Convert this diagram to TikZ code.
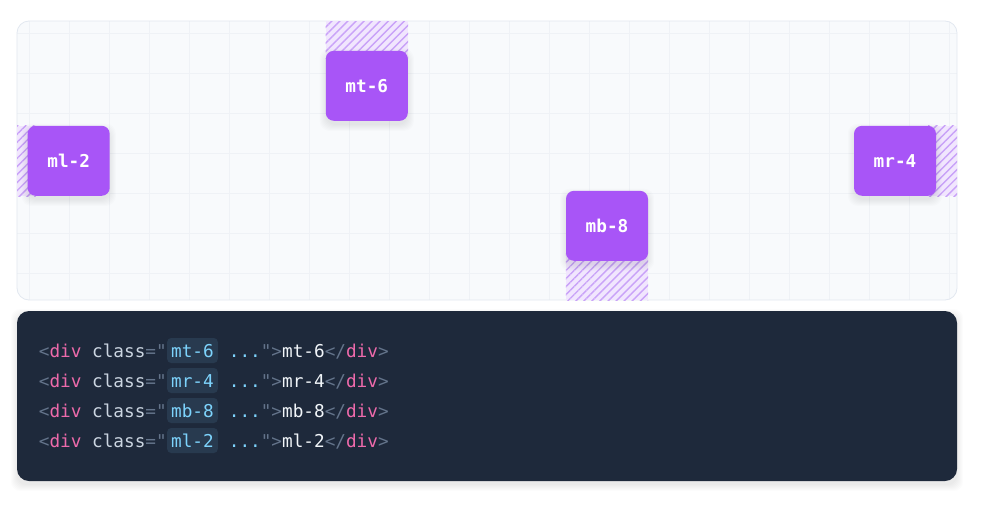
\documentclass[tikz,border=0pt]{standalone}
\usepackage{fontspec}
\setmonofont{DejaVu Sans Mono}
\usepackage{tikz}
\usetikzlibrary{positioning,calc,patterns.meta,backgrounds}

\definecolor{boxpurple}{HTML}{A855F7}
\definecolor{hatchbg}{HTML}{F1E6FE}
\definecolor{hatchline}{HTML}{C9A2F8}
\definecolor{stagebg}{HTML}{F8FAFC}
\definecolor{stageline}{HTML}{E2E8F0}
\definecolor{gridline}{HTML}{EFF2F6}
\definecolor{codebg}{HTML}{1E293B}
\definecolor{clsbg}{HTML}{283A4F}
\definecolor{punct}{HTML}{64748B}
\definecolor{tagpink}{HTML}{EE6AAB}
\definecolor{attrgray}{HTML}{CBD5E1}
\definecolor{clsblue}{HTML}{7DD3FC}
\definecolor{content}{HTML}{F1F5F9}

\newcommand{\cpunct}[1]{\textcolor{punct}{#1}}
\newcommand{\ctag}[1]{\textcolor{tagpink}{#1}}
\newcommand{\cattr}[1]{\textcolor{attrgray}{#1}}
\newcommand{\cval}[1]{\textcolor{clsblue}{#1}}
\newcommand{\ccont}[1]{\textcolor{content}{#1}}

\pgfdeclarelayer{panel}
\pgfdeclarelayer{shade}
\pgfsetlayers{panel,shade,main}

\tikzset{
  marginbox/.style={fill=boxpurple,rounded corners=8pt,minimum width=82pt,
    minimum height=70pt,inner sep=0pt,text=white,
    font=\ttfamily\bfseries\fontsize{17.7}{21}\selectfont},
  hatch/.style={preaction={fill=hatchbg},
    pattern={Lines[angle=45,distance=5.7pt,line width=1.4pt]},pattern color=hatchline},
  codepanel/.style={fill=codebg,rounded corners=12pt,minimum width=940pt,
    minimum height=170pt,inner sep=0pt},
  codetxt/.style={font=\ttfamily\fontsize{17.7}{21}\selectfont,inner sep=0pt,anchor=base west},
  clsbox/.style={codetxt,fill=clsbg,rounded corners=4pt,inner xsep=4pt,inner ysep=4pt,
    text height=15pt,text depth=2pt,text=clsblue},
}

\begin{document}
\begin{tikzpicture}[x=1pt,y=-1pt]
  \useasboundingbox (0,0) rectangle (983,506);
  \coordinate (stnw) at (17,21);
  \coordinate (stse) at (957,300);

  % the four boxes
  \node[marginbox] (mt6) at (366.8,85.8) {mt-6};
  \node[marginbox] (ml2) at (68.7,160.8) {ml-2};
  \node[marginbox] (mr4) at (895,160.8) {mr-4};
  \node[marginbox] (mb8) at (607,225.8) {mb-8};

  % code block
  \node[codepanel] (code) at (487,396) {};
  \foreach \cls [count=\i] in {mt-6,mr-4,mb-8,ml-2} {
    \node[codetxt] (pre\i) at (38.7,327+30*\i) {\cpunct{<}\ctag{div} \cattr{class}\cpunct{="}};
    \node[clsbox] (val\i) at (pre\i.base east) {\cls};
    \node[codetxt] (post\i) at (val\i.base east)
      {\ \cval{...}\cpunct{">}\ccont{\cls}\cpunct{</}\ctag{div}\cpunct{>}};
  }

  \begin{pgfonlayer}{panel}
    \fill[white] (0,0) rectangle (983,506);
    \fill[stagebg,rounded corners=12pt] (stnw) rectangle (stse);
    \begin{scope}
      \clip[rounded corners=12pt] (stnw) rectangle (stse);
      \foreach \x in {29,69,...,949} \draw[gridline,line width=1pt] (\x,21) -- (\x,300);
      \foreach \y in {33,73,...,273} \draw[gridline,line width=1pt] (17,\y) -- (957,\y);
    \end{scope}
    \draw[stageline,line width=0.8pt,rounded corners=12pt] (stnw) rectangle (stse);
    % margins
    \fill[hatch] (mt6.west |- stnw) rectangle ($(mt6.north east)+(0,8)$);
    \fill[hatch] (stnw |- ml2.north) rectangle ($(ml2.south west)+(8,0)$);
    \fill[hatch] ($(mr4.north east)+(-8,0)$) rectangle (stse |- mr4.south);
    \fill[hatch] ($(mb8.south west)+(0,-8)$) rectangle (mb8.east |- stse);
  \end{pgfonlayer}

  \begin{pgfonlayer}{shade}
    \foreach \n in {mt6,ml2,mr4,mb8,code}
      \foreach \s in {1,...,7}
        \fill[black,opacity=0.012,rounded corners=10pt]
          ($(\n.north west)+(-\s+1,-\s+5)$) rectangle ($(\n.south east)+(\s-1,\s+3)$);
  \end{pgfonlayer}
\end{tikzpicture}
\end{document}
